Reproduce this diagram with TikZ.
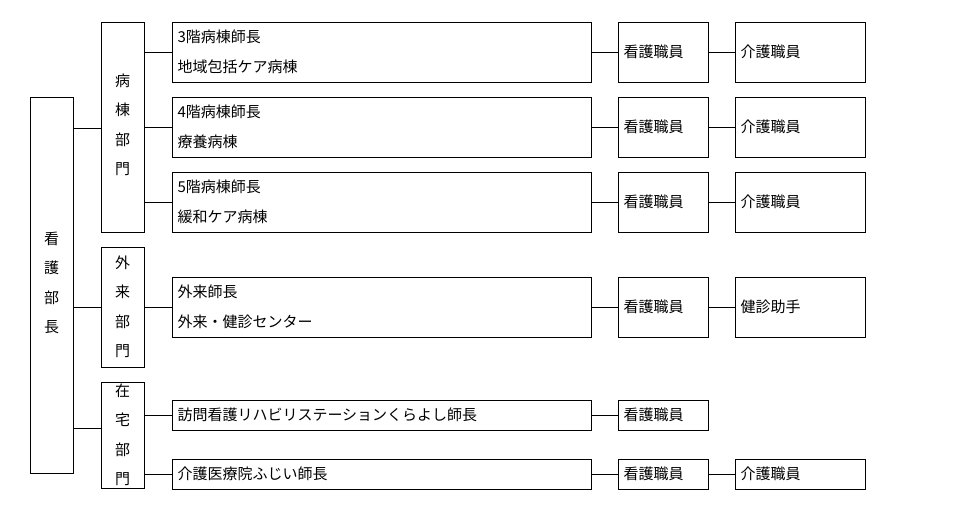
\documentclass[tikz,border=0pt]{standalone}
\usepackage{fontspec}
\setmainfont{Noto Sans CJK JP}
\begin{document}
\begin{tikzpicture}[x=1pt,y=-1pt,
  bx/.style={draw,line width=0.8pt,inner sep=0pt},
  vt/.style={align=center,font=\fontsize{15}{29.5}\selectfont},
  tx/.style={anchor=west,align=left,font=\fontsize{15}{30}\selectfont},
  ln/.style={line width=0.8pt}]
\useasboundingbox (0,0) rectangle (977,519);
\tikzset{rect/.style args={#1/#2/#3/#4}{}}
% big boxes
\draw[bx] (30,97) rectangle (73,473); \node[vt] (head) at (51.5,283) {看\\護\\部\\長};
\coordinate (hE1) at (73,128); \coordinate (hE2) at (73,307); \coordinate (hE3) at (73,428);
\draw[bx] (101,22) rectangle (144,232); \node[vt] (d1) at (122.5,125) {病\\棟\\部\\門};
\draw[bx] (101,247) rectangle (144,367); \node[vt] (d2) at (122.5,307) {外\\来\\部\\門};
\draw[bx] (101,382) rectangle (144,488); \node[vt] (d3) at (122.5,435) {在\\宅\\部\\門};
\draw[ln] (hE1) -- (101,128); \draw[ln] (hE2) -- (101,307); \draw[ln] (hE3) -- (101,428);
% rows
\foreach \i/\t/\b/\txt/\c in {1/22/82/{3階病棟師長\\地域包括ケア病棟}/介護職員,
  2/97/157/{4階病棟師長\\療養病棟}/介護職員,
  3/172/232/{5階病棟師長\\緩和ケア病棟}/介護職員,
  4/277/337/{外来師長\\外来・健診センター}/健診助手,
  5/400/430/{訪問看護リハビリステーションくらよし師長}/,
  6/459/489/{介護医療院ふじい師長}/介護職員}{
  \pgfmathsetmacro{\m}{(\t+\b)/2}
  \draw[bx] (172,\t) rectangle (591,\b);
  \node[tx] (r\i) at (174,\m) {\txt};
  \draw[bx] (618,\t) rectangle (708,\b);
  \node[tx] (n\i) at (620,\m) {看護職員};
  \draw[ln] (144,\m) -- (172,\m);
  \draw[ln] (591,\m) -- (618,\m);
}
\foreach \i/\t/\b/\c in {1/22/82/介護職員,2/97/157/介護職員,3/172/232/介護職員,4/277/337/健診助手,6/459/489/介護職員}{
  \pgfmathsetmacro{\m}{(\t+\b)/2}
  \draw[bx] (735,\t) rectangle (865,\b);
  \node[tx] (k\i) at (737,\m) {\c};
  \draw[ln] (708,\m) -- (735,\m);
}
\end{tikzpicture}
\end{document}
